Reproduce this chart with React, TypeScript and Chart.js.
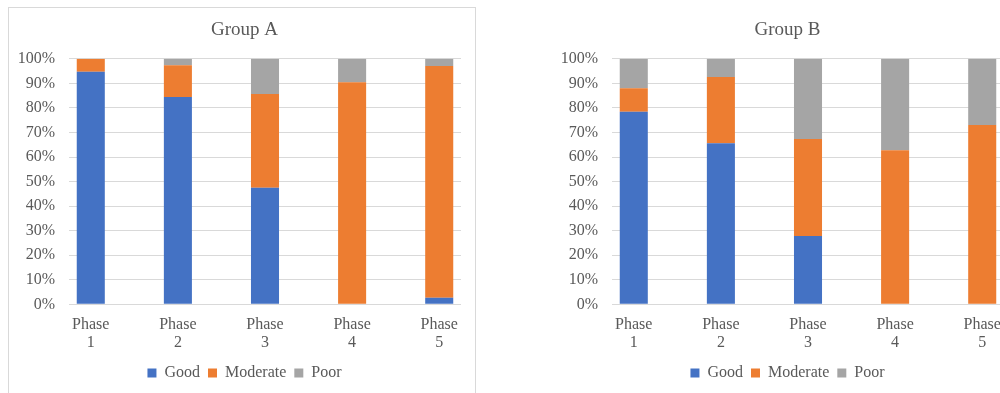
import React, { useEffect, useRef } from "react";
import { Chart, registerables } from "chart.js";

Chart.register(...registerables);

// Categories and series (percent of each phase)
const phases = ["1", "2", "3", "4", "5"];
const seriesNames = ["Good", "Moderate", "Poor"];
const seriesColors = ["#4472C4", "#ED7D31", "#A5A5A5"];

const groupAGood = [94.7, 84.4, 47.5, 0, 2.7];
const groupAModerate = [5.3, 13.0, 38.2, 90.4, 94.4];
const groupAPoor = [0, 2.6, 14.3, 9.6, 2.9];

const groupBGood = [78.4, 65.6, 27.8, 0, 0];
const groupBModerate = [9.6, 27.0, 39.5, 62.7, 73.0];
const groupBPoor = [12.0, 7.4, 32.7, 37.3, 27.0];

const FONT = "'Liberation Serif', 'Times New Roman', serif";
const TEXT = "#595959";
const GRID = "#D9D9D9";
const W = 466;
const H = 385;

// Centre the title and legend on the whole chart box rather than on the
// space left of the right padding.
const centerBlocks = {
  id: "centerBlocks",
  afterLayout(chart: any) {
    for (const box of [chart.titleBlock, chart.legend]) {
      if (box) box.left += 19;
    }
  },
};

type PanelProps = {
  title: string;
  good: number[];
  moderate: number[];
  poor: number[];
};

function StackedPanel({ title, good, moderate, poor }: PanelProps) {
  const ref = useRef<HTMLCanvasElement>(null);

  useEffect(() => {
    if (!ref.current) return;
    const series = [good, moderate, poor];
    const chart = new Chart(ref.current, {
      type: "bar",
      data: {
        datasets: series.map((vals, k) => ({
          label: seriesNames[k],
          data: vals.map((v, i) => ({ x: i, y: v })),
          backgroundColor: seriesColors[k],
          borderWidth: 0,
          categoryPercentage: 1,
          barPercentage: 0.322,
        })),
      },
      plugins: [centerBlocks],
      options: {
        responsive: false,
        animation: false,
        devicePixelRatio: 1,
        layout: { padding: { left: 0, right: 14, top: 0, bottom: 2 } },
        plugins: {
          title: {
            display: true,
            text: title,
            color: TEXT,
            font: { family: FONT, size: 19, weight: "normal" },
            padding: { top: 11, bottom: 17 },
          },
          legend: {
            position: "bottom",
            labels: {
              color: TEXT,
              font: { family: FONT, size: 16 },
              boxWidth: 9,
              boxHeight: 9,
              padding: 8,
            },
          },
          tooltip: { enabled: false },
        },
        scales: {
          x: {
            type: "linear",
            min: -0.25,
            max: 4.25,
            offset: false,
            stacked: true,
            grid: { display: false, drawTicks: false },
            border: { display: false },
            afterBuildTicks: (s: any) => {
              s.ticks = phases.map((_, i) => ({ value: i }));
            },
            afterFit: (s: any) => {
              s.height = 52.7;
            },
            ticks: {
              padding: 11,
              maxRotation: 0,
              autoSkip: false,
              color: TEXT,
              font: { family: FONT, size: 16, lineHeight: 1.125 },
              callback: (v: any) => ["Phase", phases[Number(v)]],
            },
          },
          y: {
            stacked: true,
            min: 0,
            max: 100,
            afterFit: (s: any) => {
              s.width = 60;
            },
            grid: { color: GRID, lineWidth: 1, drawTicks: false },
            border: { display: false },
            ticks: {
              stepSize: 10,
              padding: 14,
              color: TEXT,
              font: { family: FONT, size: 16 },
              callback: (v: any) => `${v}%`,
            },
          },
        },
      },
    } as any);
    return () => chart.destroy();
  }, [title, good, moderate, poor]);

  return (
    <canvas
      ref={ref}
      width={W}
      height={H}
      style={{ display: "block", width: W, height: H }}
    />
  );
}

export default function App() {
  return (
    <div
      style={{
        position: "absolute",
        left: 0,
        top: 0,
        width: 1000,
        height: 393,
        overflow: "hidden",
        background: "#FFFFFF",
      }}
    >
      <div
        style={{
          position: "absolute",
          left: 8,
          top: 7,
          width: W,
          height: H,
          border: `1px solid ${GRID}`,
        }}
      >
        <StackedPanel
          title="Group A"
          good={groupAGood}
          moderate={groupAModerate}
          poor={groupAPoor}
        />
      </div>
      <div
        style={{
          position: "absolute",
          left: 552,
          top: 8,
          width: W,
          height: H,
        }}
      >
        <StackedPanel
          title="Group B"
          good={groupBGood}
          moderate={groupBModerate}
          poor={groupBPoor}
        />
      </div>
    </div>
  );
}
